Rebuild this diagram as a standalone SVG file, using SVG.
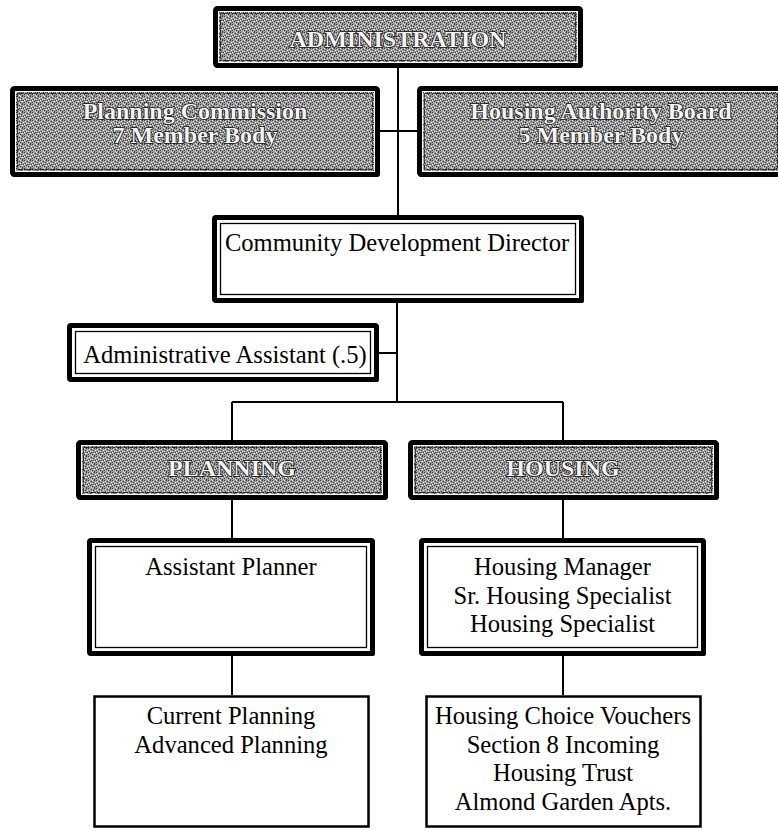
<svg xmlns="http://www.w3.org/2000/svg" width="778" height="830" viewBox="0 0 778 830">
<style>
.bg{fill:#ffffff}
.gframe{fill:url(#stip);stroke:#000;stroke-width:5}
.shadow{fill:#000}
.gin1{fill:none;stroke:#ffffff;stroke-width:1}
.gin2{fill:none;stroke:#2a2a2a;stroke-width:1;stroke-dasharray:6 1 3 1}
.wframe{fill:#fff;stroke:#000;stroke-width:5}
.win{fill:none;stroke:#000;stroke-width:1.3}
.plain{fill:#fff;stroke:#000;stroke-width:2.5}
.gt{font-family:"Liberation Serif","Times New Roman",serif;font-weight:bold;font-size:24px;fill:#f4f4f4;stroke:#111;stroke-width:1.6;paint-order:stroke;text-anchor:middle}
.t{font-family:"Liberation Serif","Times New Roman",serif;font-size:24.6px;fill:#000;text-anchor:middle}
.conn line{stroke:#000;stroke-width:2}
</style>
<defs>
<pattern id="stip" width="8" height="8" patternUnits="userSpaceOnUse">
<rect width="8" height="8" fill="#9a9a9a"/>
<g fill="#3c3c3c">
<rect x="0" y="0" width="1" height="1"/><rect x="3" y="1" width="1" height="1"/><rect x="6" y="0" width="1" height="1"/>
<rect x="1" y="3" width="1" height="1"/><rect x="5" y="2" width="1" height="1"/><rect x="7" y="4" width="1" height="1"/>
<rect x="2" y="5" width="1" height="1"/><rect x="4" y="6" width="1" height="1"/><rect x="6" y="7" width="1" height="1"/>
<rect x="0" y="6" width="1" height="1"/><rect x="3" y="4" width="1" height="1"/><rect x="5" y="4" width="1" height="1"/>
</g>
<g fill="#e4e4e4">
<rect x="1" y="1" width="1" height="1"/><rect x="4" y="0" width="1" height="1"/><rect x="7" y="2" width="1" height="1"/>
<rect x="2" y="3" width="1" height="1"/><rect x="5" y="5" width="1" height="1"/><rect x="0" y="4" width="1" height="1"/>
<rect x="3" y="7" width="1" height="1"/><rect x="6" y="5" width="1" height="1"/><rect x="1" y="6" width="1" height="1"/>
<rect x="4" y="3" width="1" height="1"/>
</g>
</pattern>
</defs>
<rect class="bg" x="0" y="0" width="778" height="830"/>

<g id="connectors" class="conn">
<line x1="398" y1="68" x2="398" y2="215"/>
<line x1="380" y1="131" x2="417" y2="131"/>
<line x1="397" y1="303" x2="397" y2="402"/>
<line x1="379" y1="353" x2="397" y2="353"/>
<line x1="232" y1="402" x2="563" y2="402"/>
<line x1="232" y1="402" x2="232" y2="440"/>
<line x1="563" y1="402" x2="563" y2="440"/>
<line x1="232" y1="500" x2="232" y2="538"/>
<line x1="563" y1="500" x2="563" y2="538"/>
<line x1="232" y1="656" x2="232" y2="695"/>
<line x1="563" y1="656" x2="563" y2="695"/>
</g>

<g id="administration">
<rect class="shadow" x="215" y="8" width="368" height="60" rx="3"/>
<rect class="gframe" x="215.5" y="8.5" width="365" height="57" rx="2"/>
<rect class="gin1" x="218.5" y="11.5" width="359" height="51"/>
<rect class="gin2" x="220.5" y="13.5" width="355" height="47"/>
<text class="gt" x="398" y="47">ADMINISTRATION</text>
</g>

<g id="planning-commission">
<rect class="shadow" x="12" y="88" width="368" height="89" rx="3"/>
<rect class="gframe" x="12.5" y="88.5" width="365" height="86" rx="2"/>
<rect class="gin1" x="15.5" y="91.5" width="359" height="80"/>
<rect class="gin2" x="17.5" y="93.5" width="355" height="76"/>
<text class="gt" x="195" y="119">Planning Commission</text>
<text class="gt" x="195" y="143">7 Member Body</text>
</g>

<g id="housing-authority-board">
<rect class="shadow" x="419" y="88" width="366" height="89" rx="3"/>
<rect class="gframe" x="419.5" y="88.5" width="363" height="86" rx="2"/>
<rect class="gin1" x="422.5" y="91.5" width="357" height="80"/>
<rect class="gin2" x="424.5" y="93.5" width="353" height="76"/>
<text class="gt" x="601" y="119">Housing Authority Board</text>
<text class="gt" x="601" y="143">5 Member Body</text>
</g>

<g id="community-development-director">
<rect class="shadow" x="214" y="217" width="370" height="86" rx="2"/>
<rect class="wframe" x="214.5" y="217.5" width="367" height="83" rx="1.5"/>
<rect class="win" x="220.5" y="223.5" width="355" height="71"/>
<text class="t" x="397" y="251">Community Development Director</text>
</g>

<g id="administrative-assistant">
<rect class="shadow" x="69" y="325" width="310" height="57" rx="2"/>
<rect class="wframe" x="69.5" y="325.5" width="307" height="54" rx="1.5"/>
<rect class="win" x="75.5" y="331.5" width="295" height="42"/>
<text class="t" x="225" y="363">Administrative Assistant (.5)</text>
</g>

<g id="planning">
<rect class="shadow" x="78" y="442" width="310" height="58" rx="3"/>
<rect class="gframe" x="78.5" y="442.5" width="307" height="55" rx="2"/>
<rect class="gin1" x="81.5" y="445.5" width="301" height="49"/>
<rect class="gin2" x="83.5" y="447.5" width="297" height="45"/>
<text class="gt" x="232" y="476">PLANNING</text>
</g>

<g id="housing">
<rect class="shadow" x="410" y="442" width="309" height="58" rx="3"/>
<rect class="gframe" x="410.5" y="442.5" width="306" height="55" rx="2"/>
<rect class="gin1" x="413.5" y="445.5" width="300" height="49"/>
<rect class="gin2" x="415.5" y="447.5" width="296" height="45"/>
<text class="gt" x="563" y="476">HOUSING</text>
</g>

<g id="assistant-planner">
<rect class="shadow" x="89" y="540" width="286" height="116" rx="2"/>
<rect class="wframe" x="89.5" y="540.5" width="283" height="113" rx="1.5"/>
<rect class="win" x="95.5" y="546.5" width="271" height="101"/>
<text class="t" x="231" y="575">Assistant Planner</text>
</g>

<g id="housing-manager">
<rect class="shadow" x="421" y="540" width="285" height="116" rx="2"/>
<rect class="wframe" x="421.5" y="540.5" width="282" height="113" rx="1.5"/>
<rect class="win" x="427.5" y="546.5" width="270" height="101"/>
<text class="t" x="562.5" y="575">Housing Manager</text>
<text class="t" x="562.5" y="603.5">Sr. Housing Specialist</text>
<text class="t" x="562.5" y="632">Housing Specialist</text>
</g>

<g id="current-planning">
<rect class="plain" x="94.5" y="696.5" width="274" height="130"/>
<text class="t" x="231" y="724">Current Planning</text>
<text class="t" x="231" y="753">Advanced Planning</text>
</g>

<g id="housing-programs">
<rect class="plain" x="426.5" y="696.5" width="274" height="130"/>
<text class="t" x="563" y="724">Housing Choice Vouchers</text>
<text class="t" x="563" y="752.5">Section 8 Incoming</text>
<text class="t" x="563" y="781">Housing Trust</text>
<text class="t" x="563" y="810">Almond Garden Apts.</text>
</g>
</svg>
